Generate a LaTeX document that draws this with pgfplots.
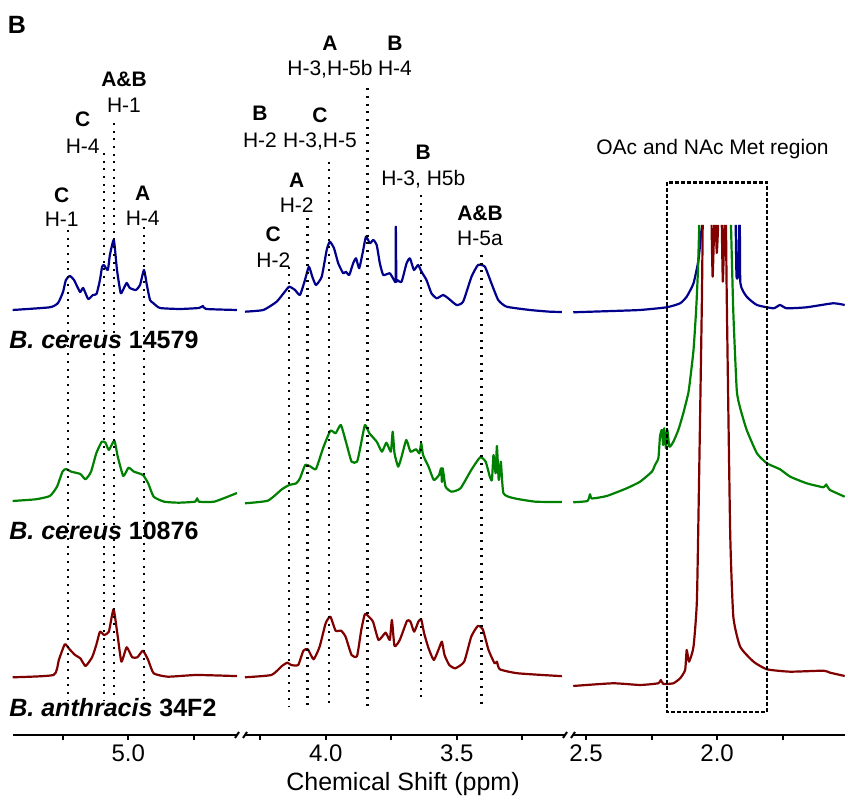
\documentclass[border=0pt]{standalone}
\usepackage{pgfplots}
\pgfplotsset{compat=1.18}
\usepackage{fontspec}
\setmainfont{Liberation Sans}
\definecolor{cblue}{RGB}{0,0,140}
\definecolor{cgreen}{RGB}{0,128,0}
\definecolor{cred}{RGB}{128,0,0}
\pgfplotsset{
 seg/.style={scale only axis, height=367.5pt, ymin=-735, ymax=0, x dir=reverse,
   axis x line=bottom, axis y line=none, x axis line style={-},
   axis line style={line width=1pt}, tick align=outside, major tick length=2.5pt,
   every tick/.style={black, line width=1pt}, clip=false,
   xticklabel style={font=\fontsize{12}{14}\selectfont, inner sep=2pt},
   anchor=south west},
 spec/.style={line width=1.1pt, line join=round, no markers, smooth, tension=0.3},
 dl/.style={black, line width=1.1pt, dash pattern=on 1pt off 2.85pt, no markers},
}
\begin{document}
\begin{tikzpicture}
\useasboundingbox (0,0) rectangle (424pt,400.5pt);
% ---------------- segment 1 ----------------
\begin{axis}[seg, at={(6.35pt,33pt)}, width=112.15pt, xmin=4.585, xmax=5.441,
  xtick={4.75,5.0,5.25}, xticklabels={,5.0,}]
\addplot[spec, cblue] coordinates {(5.441,-310)(5.299,-307.3)(5.268,-303)(5.249,-292)(5.238,-280)(5.223,-276)(5.207,-280)(5.184,-292)(5.172,-288)(5.153,-299)(5.135,-295)(5.121,-294)(5.108,-280)(5.100,-267)(5.093,-265)(5.078,-270)(5.070,-255)(5.055,-240)(5.043,-270)(5.029,-293)(5.020,-290)(5.006,-283)(4.994,-288)(4.971,-290)(4.955,-285)(4.940,-270)(4.929,-285)(4.917,-300)(4.905,-303)(4.879,-308)(4.803,-309)(4.730,-308)(4.715,-306)(4.703,-309)(4.585,-310)};
\addplot[spec, cgreen] coordinates {(5.441,-501)(5.353,-499.3)(5.299,-496)(5.272,-486.7)(5.251,-471.7)(5.238,-469)(5.217,-471.7)(5.183,-474)(5.163,-479.3)(5.142,-471.7)(5.122,-453.3)(5.101,-441.7)(5.087,-442.7)(5.074,-450)(5.053,-440.7)(5.040,-456.7)(5.019,-476)(4.999,-467.7)(4.978,-471.7)(4.944,-475)(4.924,-483.3)(4.903,-496.7)(4.863,-501.7)(4.808,-502.7)(4.745,-501.7)(4.737,-498.3)(4.730,-501.7)(4.672,-501.7)(4.597,-494.3)(4.585,-493)};
\addplot[spec, cred] coordinates {(5.441,-677.3)(5.285,-675)(5.265,-660)(5.242,-644.3)(5.224,-649.3)(5.203,-655)(5.183,-658.3)(5.163,-666)(5.138,-657.3)(5.122,-645)(5.108,-631.7)(5.092,-635)(5.074,-631.7)(5.056,-609.3)(5.040,-636.7)(5.026,-661.7)(5.006,-647.3)(4.985,-657.3)(4.965,-657.3)(4.944,-650.7)(4.924,-660)(4.903,-673.3)(4.849,-676.7)(4.740,-675)(4.597,-676)(4.585,-676)};
\addplot[dl] coordinates {(5.231,-230)(5.231,-700)};
\addplot[dl] coordinates {(5.093,-153)(5.093,-700)};
\addplot[dl] coordinates {(5.055,-123)(5.055,-700)};
\addplot[dl] coordinates {(4.940,-227)(4.940,-700)};
\end{axis}
% ---------------- segment 2 ----------------
\begin{axis}[seg, at={(122.5pt,33pt)}, width=160pt, xmin=3.087, xmax=4.309,
  xtick={3.25,3.5,3.75,4.0,4.25}, xticklabels={,3.5,,4.0,}]
\addplot[spec, cblue] coordinates {(4.309,-311.7)(4.239,-310)(4.188,-301.7)(4.157,-291.7)(4.140,-286.7)(4.118,-290)(4.099,-295)(4.080,-280)(4.065,-266.7)(4.052,-276.7)(4.038,-285)(4.016,-276.7)(3.997,-250)(3.985,-241.7)(3.969,-248.3)(3.953,-263.3)(3.934,-273.3)(3.924,-271.7)(3.911,-275)(3.896,-263.3)(3.885,-258.3)(3.873,-268.3)(3.860,-253.3)(3.847,-236.7)(3.832,-243.3)(3.819,-240)(3.806,-245)(3.794,-263.3)(3.781,-275)(3.756,-273.3)(3.740,-280)(3.734,-280)(3.733,-226.7)(3.731,-280)(3.728,-280)(3.711,-281.7)(3.692,-263.3)(3.679,-258.3)(3.664,-270)(3.648,-265)(3.635,-271.7)(3.616,-280)(3.597,-293.3)(3.577,-298.3)(3.552,-295)(3.533,-298.3)(3.501,-305)(3.476,-301.7)(3.444,-276.7)(3.419,-265)(3.393,-266.7)(3.368,-283.3)(3.342,-300)(3.310,-306.7)(3.221,-310)(3.145,-311.7)(3.099,-312)};
\addplot[spec, cgreen] coordinates {(4.309,-503.3)(4.222,-500.7)(4.168,-489.3)(4.140,-485)(4.113,-483.3)(4.099,-478.3)(4.079,-465)(4.058,-466.7)(4.038,-469)(4.011,-448.3)(3.983,-430.7)(3.963,-433.3)(3.943,-425)(3.922,-443.3)(3.902,-461.7)(3.881,-461.7)(3.868,-446.7)(3.851,-425)(3.834,-433.3)(3.806,-441.7)(3.786,-451.7)(3.769,-442.7)(3.752,-451.7)(3.745,-431.7)(3.738,-453.3)(3.724,-466.7)(3.711,-456.7)(3.693,-440)(3.677,-451.7)(3.656,-449.3)(3.643,-453.3)(3.636,-443.3)(3.629,-455)(3.608,-466.7)(3.588,-480)(3.568,-475)(3.560,-468.3)(3.557,-482)(3.554,-468.3)(3.543,-486.7)(3.520,-491.7)(3.486,-488.3)(3.445,-470)(3.411,-457.3)(3.390,-461.7)(3.374,-476.7)(3.366,-480)(3.360,-455)(3.352,-473.3)(3.347,-446)(3.340,-480)(3.332,-461.7)(3.322,-493.3)(3.281,-498.3)(3.200,-501.7)(3.111,-502)(3.099,-502)};
\addplot[spec, cred] coordinates {(4.309,-677.3)(4.208,-675)(4.168,-666)(4.147,-662.7)(4.133,-665)(4.106,-665)(4.086,-650.7)(4.069,-649.3)(4.047,-659.3)(4.024,-646.7)(4.001,-623.3)(3.983,-616.7)(3.963,-630.7)(3.942,-630.7)(3.925,-636.7)(3.902,-655)(3.881,-656)(3.865,-630)(3.851,-614)(3.834,-617.3)(3.820,-621.7)(3.799,-640)(3.772,-632.7)(3.756,-640)(3.748,-620)(3.738,-646)(3.718,-640)(3.690,-620.7)(3.677,-621.7)(3.663,-631.7)(3.647,-621.7)(3.636,-619.3)(3.625,-633.3)(3.608,-648.3)(3.588,-660)(3.568,-648.3)(3.557,-641.7)(3.547,-655)(3.529,-665)(3.506,-668.3)(3.472,-661.7)(3.445,-636.7)(3.420,-626)(3.401,-629.3)(3.379,-650)(3.356,-663.3)(3.347,-661.7)(3.336,-669.3)(3.268,-673.3)(3.111,-676)(3.099,-676)};
\addplot[dl] coordinates {(4.140,-266.7)(4.140,-706)};
\addplot[dl] coordinates {(4.070,-218.3)(4.070,-706)};
\addplot[dl] coordinates {(3.987,-161.7)(3.987,-706)};
\addplot[dl] coordinates {(3.841,-88.3)(3.841,-706)};
\addplot[dl] coordinates {(3.637,-195)(3.637,-700)};
\addplot[dl] coordinates {(3.406,-255)(3.406,-704)};
\end{axis}
% ---------------- segment 3 ----------------
\begin{axis}[seg, at={(286.5pt,33pt)}, width=135.85pt, xmin=1.513, xmax=2.550,
  xtick={1.75,2.0,2.25,2.5}, xticklabels={,2.0,,2.5}]
\addplot[spec, cblue] coordinates {(2.549,-312.3)(2.397,-311)(2.294,-310)(2.192,-307.3)(2.141,-303.3)(2.116,-296.7)(2.090,-283.3)(2.071,-260)(2.061,-233)(2.056,-225)};
\addplot[spec, cblue] coordinates {(1.929,-225)(1.926,-276)(1.920,-275)(1.916,-225)};
\addplot[spec, cblue] coordinates {(1.913,-225)(1.911,-283.3)(1.887,-296.7)(1.848,-305)(1.785,-308.3)(1.760,-305)(1.734,-308.3)(1.658,-307.3)(1.557,-303.3)(1.513,-305)};
\addplot[spec, cgreen] coordinates {(2.549,-502.3)(2.495,-501)(2.485,-494.3)(2.478,-498.5)(2.421,-496)(2.345,-488.3)(2.294,-481.7)(2.249,-471.7)(2.237,-465)(2.224,-458)(2.218,-436.7)(2.211,-430)(2.206,-445)(2.202,-428.3)(2.195,-448.3)(2.190,-430)(2.182,-446.7)(2.167,-441.7)(2.148,-430)(2.129,-413.3)(2.110,-393.3)(2.103,-380)(2.090,-350)(2.080,-310)(2.073,-270)(2.068,-225)};
\addplot[spec, cgreen] coordinates {(1.947,-225)(1.938,-313)(1.925,-390)(1.912,-408)(1.887,-430)(1.848,-453.3)(1.810,-463.3)(1.760,-469.3)(1.721,-476.7)(1.658,-483.3)(1.594,-487.3)(1.584,-484.5)(1.569,-490)(1.513,-496.7)};
\addplot[spec, cred] coordinates {(2.549,-686)(2.397,-683.3)(2.294,-685)(2.224,-683.3)(2.215,-680)(2.205,-684)(2.167,-683.3)(2.141,-678.3)(2.122,-670)(2.116,-650)(2.107,-661.7)(2.090,-646.7)(2.077,-600)(2.068,-466.7)(2.058,-300)(2.055,-225)};
\addplot[spec, cred] coordinates {(2.021,-225)(2.017,-276.7)(2.011,-225)};
\addplot[spec, cred] coordinates {(2.005,-225)(2.001,-253)(1.996,-225)};
\addplot[spec, cred] coordinates {(1.982,-225)(1.978,-281.7)(1.972,-225)};
\addplot[spec, cred] coordinates {(1.966,-225)(1.963,-300)(1.950,-533)(1.938,-616.7)(1.912,-646.7)(1.861,-661.7)(1.810,-669.3)(1.721,-671.7)(1.594,-670.7)(1.569,-672.7)(1.513,-676)};
\draw[black, line width=1.3pt, dash pattern=on 1.65pt off 1.35pt] (axis cs:2.191,-182.3) rectangle (axis cs:1.809,-712);
\end{axis}
% ---------------- annotations (pixel coordinates) ----------------
\begin{scope}[x=0.5pt,y=-0.5pt,yshift=400.5pt]
\tikzset{lb/.style={anchor=base, inner sep=0pt, font=\fontsize{10.5}{12}\selectfont\bfseries},
         lh/.style={anchor=base, inner sep=0pt, font=\fontsize{10.5}{12}\selectfont},
         sp/.style={anchor=base west, inner sep=0pt, font=\fontsize{12.5}{14}\selectfont\bfseries}}
\draw[line width=1pt] (235,738) -- (239,732);
\draw[line width=1pt] (243,738) -- (247,732);
\draw[line width=1pt] (563,738) -- (567,732);
\draw[line width=1pt] (571,738) -- (575,732);
\node[anchor=base, inner sep=0pt, font=\fontsize{12.5}{14}\selectfont\bfseries] at (17,34) {B};
\node[lb] at (124,86.8) {A\&B};   \node[lh] at (124,112.5) {H-1};
\node[lb] at (82.7,126.8) {C};    \node[lh] at (82.7,153.2) {H-4};
\node[lb] at (61.7,202.5) {C};    \node[lh] at (61.7,226.8) {H-1};
\node[lb] at (142.7,200.2) {A};   \node[lh] at (142.7,225.8) {H-4};
\node[lb] at (260,120.8) {B};     \node[lh] at (260,147.5) {H-2};
\node[lb] at (273.3,241.5) {C};   \node[lh] at (273.3,267.5) {H-2};
\node[lb] at (330,50.8) {A};      \node[lh] at (330,75.8) {H-3,H-5b};
\node[lb] at (395,50.8) {B};      \node[lh] at (395,75.8) {H-4};
\node[lb] at (320,122.5) {C};     \node[lh] at (320,147.5) {H-3,H-5};
\node[lb] at (296.7,187.5) {A};   \node[lh] at (296.7,212.5) {H-2};
\node[lb] at (423.3,159.2) {B};   \node[lh] at (423.3,185.2) {H-3, H5b};
\node[lb] at (480,220.8) {A\&B};  \node[lh] at (480,245.8) {H-5a};
\node[lh] at (712.5,154.2) {OAc and NAc Met region};
\node[sp] at (9,349) {\textit{B. cereus} 14579};
\node[sp] at (9,540) {\textit{B. cereus} 10876};
\node[sp] at (9,717) {\textit{B. anthracis} 34F2};
\node[anchor=base, inner sep=0pt, font=\fontsize{12.5}{14}\selectfont] at (403,791) {Chemical Shift (ppm)};
\end{scope}
\end{tikzpicture}
\end{document}
